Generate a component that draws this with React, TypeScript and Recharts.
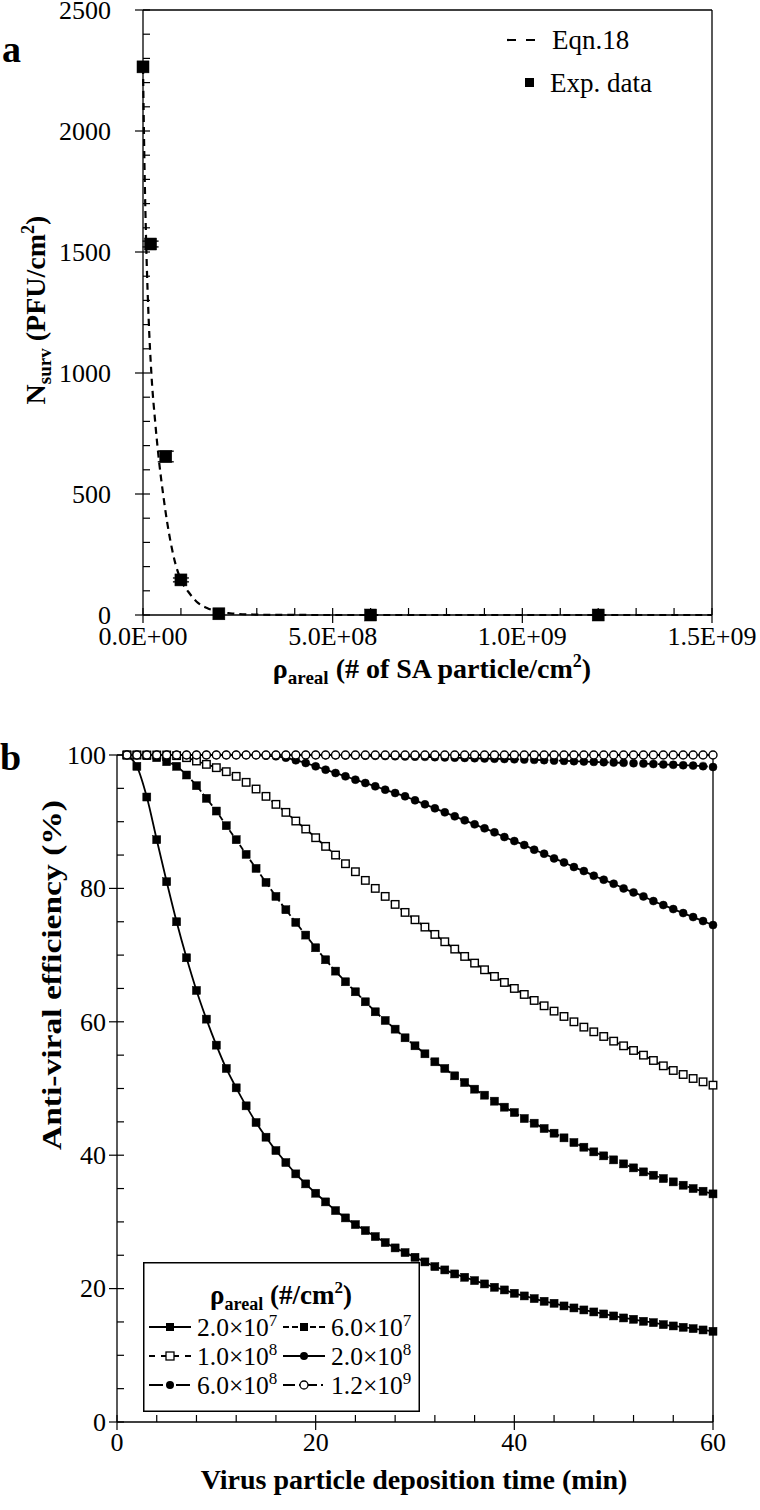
import React from "react";
import {
  ComposedChart,
  LineChart,
  Line,
  Scatter,
  XAxis,
  YAxis,
  ErrorBar,
  ReferenceLine,
  Legend,
} from "recharts";

const SERIF = '"Liberation Serif", "Times New Roman", Times, serif';

// ---------- panel a : surviving virus vs. areal density of SA particles
const expDensity = [0, 2e7, 6e7, 1e8, 2e8, 6e8, 1.2e9];
const expSurv = [2265, 1533, 655, 145, 5, 0, 0];
const expErr = [0, 12, 22, 8, 0, 0, 0];

// Eqn.18 curve
const eqnDensity = [
  0, 4e6, 9e6, 1.5e7, 2.2e7, 3.2e7, 4.2e7, 5.3e7, 6.3e7, 7.3e7, 8.5e7, 1e8,
  1.2e8, 1.45e8, 1.7e8, 1.95e8, 2.3e8, 2.9e8, 3.5e8, 5e8, 1e9, 1.5e9,
];
const eqnSurv = [
  2265, 1850, 1500, 1220, 1000, 800, 640, 500, 390, 300, 215, 145, 95, 50, 28,
  15, 7, 2, 0.5, 0, 0, 0,
];

const aYTicks = [
  0, 100, 200, 300, 400, 500, 600, 700, 800, 900, 1000, 1100, 1200, 1300, 1400,
  1500, 1600, 1700, 1800, 1900, 2000, 2100, 2200, 2300, 2400, 2500,
];
const aYMajor = [0, 500, 1000, 1500, 2000, 2500];
const aXTicks = [
  0, 1e8, 2e8, 3e8, 4e8, 5e8, 6e8, 7e8, 8e8, 9e8, 1e9, 1.1e9, 1.2e9, 1.3e9,
  1.4e9, 1.5e9,
];
const aXMajor = [0, 5e8, 1e9, 1.5e9];

// ---------- panel b : anti-viral efficiency vs. deposition time
const bTimes = [
  1, 2, 3, 4, 5, 6, 7, 8, 9, 10, 11, 12, 13, 14, 15, 16, 17, 18, 19, 20, 21, 22,
  23, 24, 25, 26, 27, 28, 29, 30, 31, 32, 33, 34, 35, 36, 37, 38, 39, 40, 41,
  42, 43, 44, 45, 46, 47, 48, 49, 50, 51, 52, 53, 54, 55, 56, 57, 58, 59, 60,
];
const rho2e7 = [
  100, 98.3, 93.7, 87.3, 81.0, 75.0, 69.6, 64.7, 60.4, 56.5, 53.0, 50.1, 47.4,
  44.9, 42.7, 40.7, 38.9, 37.2, 35.7, 34.3, 33.0, 31.7, 30.6, 29.6, 28.7, 27.8,
  26.9, 26.1, 25.4, 24.7, 24.0, 23.3, 22.8, 22.2, 21.7, 21.2, 20.7, 20.2, 19.8,
  19.3, 18.9, 18.5, 18.1, 17.8, 17.4, 17.1, 16.8, 16.5, 16.2, 15.9, 15.6, 15.4,
  15.1, 14.9, 14.6, 14.4, 14.2, 14.0, 13.8, 13.6,
];
const rho6e7 = [
  100, 100, 99.9, 99.6, 99.0, 98.3, 97.0, 95.4, 93.5, 91.6, 89.4, 87.3, 85.1,
  83.0, 80.9, 78.8, 76.8, 74.9, 73.0, 71.1, 69.3, 67.6, 66.0, 64.5, 63.0, 61.5,
  60.2, 58.9, 57.6, 56.4, 55.2, 54.0, 53.0, 51.9, 50.9, 49.9, 49.0, 48.1, 47.2,
  46.4, 45.5, 44.8, 44.0, 43.3, 42.6, 41.9, 41.2, 40.5, 39.9, 39.3, 38.7, 38.1,
  37.5, 37.0, 36.5, 36.0, 35.5, 35.0, 34.6, 34.2,
];
const rho1e8 = [
  100, 100, 100, 100, 100, 99.9, 99.6, 99.1, 98.6, 98.1, 97.5, 96.8, 95.9, 94.9,
  93.8, 92.6, 91.4, 90.1, 88.9, 87.6, 86.3, 85.0, 83.7, 82.5, 81.2, 80.0, 78.8,
  77.6, 76.4, 75.3, 74.2, 73.1, 72.0, 70.9, 69.8, 68.8, 67.8, 66.8, 65.9, 65.0,
  64.1, 63.2, 62.4, 61.6, 60.8, 60.0, 59.2, 58.5, 57.8, 57.1, 56.4, 55.7, 55.0,
  54.2, 53.4, 52.7, 52.1, 51.5, 51.0, 50.5,
];
const rho2e8 = [
  100, 100, 100, 100, 100, 100, 100, 100, 100, 100, 100, 100, 100, 100, 99.9,
  99.8, 99.6, 99.2, 98.8, 98.3, 97.8, 97.3, 96.8, 96.3, 95.8, 95.3, 94.8, 94.3,
  93.8, 93.2, 92.6, 92.0, 91.4, 90.8, 90.2, 89.6, 89.0, 88.4, 87.7, 87.1, 86.5,
  85.8, 85.2, 84.5, 83.9, 83.2, 82.6, 81.9, 81.3, 80.7, 80.0, 79.4, 78.8, 78.1,
  77.5, 76.9, 76.3, 75.7, 75.1, 74.5,
];
const rho6e8 = [
  100, 100, 100, 100, 100, 100, 100, 100, 100, 100, 100, 100, 100, 100, 100,
  100, 100, 100, 100, 100, 99.98, 99.96, 99.94, 99.92, 99.9, 99.87, 99.84,
  99.81, 99.78, 99.75, 99.72, 99.68, 99.64, 99.6, 99.56, 99.52, 99.48, 99.44,
  99.4, 99.36, 99.32, 99.27, 99.22, 99.17, 99.12, 99.07, 99.02, 98.97, 98.92,
  98.87, 98.82, 98.77, 98.71, 98.65, 98.59, 98.53, 98.47, 98.41, 98.33, 98.2,
];
const rho12e8 = [
  100, 100, 100, 100, 100, 100, 100, 100, 100, 100, 100, 100, 100, 100, 100,
  100, 100, 100, 100, 100, 100, 100, 100, 100, 100, 100, 100, 100, 100, 100,
  100, 100, 100, 100, 100, 100, 100, 100, 100, 100, 100, 100, 100, 100, 100,
  100, 100, 100, 100, 100, 100, 100, 100, 100, 100, 100, 100, 100, 100, 100,
];

const bYTicks = [
  0, 5, 10, 15, 20, 25, 30, 35, 40, 45, 50, 55, 60, 65, 70, 75, 80, 85, 90, 95,
  100,
];
const bYMajor = [0, 20, 40, 60, 80, 100];
const bXTicks = [0, 4, 8, 12, 16, 20, 24, 28, 32, 36, 40, 44, 48, 52, 56, 60];
const bXMajor = [0, 20, 40, 60];

const expRows = expDensity.map((x, i) => ({ x, y: expSurv[i], err: expErr[i] }));
const eqnRows = eqnDensity.map((x, i) => ({ x, y: eqnSurv[i] }));
const bRows = bTimes.map((t, i) => ({
  t,
  s1: rho2e7[i],
  s2: rho6e7[i],
  s3: rho1e8[i],
  s4: rho2e8[i],
  s5: rho6e8[i],
  s6: rho12e8[i],
}));

const sci = (v: number) => {
  const [m, e] = v.toExponential(1).split("e");
  const n = Number(e);
  return `${m}E${n < 0 ? "-" : "+"}${String(Math.abs(n)).padStart(2, "0")}`;
};

// ticks: majors cross the axis and carry a label, minors point inwards
const leftTick = (majors: number[], fmt: (v: number) => string, gap: number) => (p: any) => {
  const { x, y, payload } = p;
  const major = majors.includes(payload.value);
  return (
    <g>
      <line x1={major ? x - 8 : x} x2={x + 7} y1={y} y2={y} stroke="#000" strokeWidth={1.2} />
      {major && (
        <text x={x - gap} y={y} dy="0.34em" textAnchor="end" fontFamily={SERIF} fontSize={26} fill="#000">
          {fmt(payload.value)}
        </text>
      )}
    </g>
  );
};
const bottomTick = (majors: number[], fmt: (v: number) => string, drop: number) => (p: any) => {
  const { x, y, payload } = p;
  const major = majors.includes(payload.value);
  return (
    <g>
      <line x1={x} x2={x} y1={major ? y + 8 : y} y2={y - 7} stroke="#000" strokeWidth={1.2} />
      {major && (
        <text x={x} y={y + drop} textAnchor="middle" fontFamily={SERIF} fontSize={26} fill="#000">
          {fmt(payload.value)}
        </text>
      )}
    </g>
  );
};

const square = (size: number, filled: boolean) => (p: any) => {
  const { cx, cy, index } = p;
  if (cx == null || cy == null) return <g key={index} />;
  return (
    <rect key={index} x={cx - size / 2} y={cy - size / 2} width={size} height={size}
      fill={filled ? "#000" : "#fff"} stroke="#000" strokeWidth={filled ? 0.5 : 1.4} />
  );
};
const circle = (r: number, filled: boolean) => (p: any) => {
  const { cx, cy, index } = p;
  if (cx == null || cy == null) return <g key={index} />;
  return <circle key={index} cx={cx} cy={cy} r={r} fill={filled ? "#000" : "#fff"} stroke="#000" strokeWidth={filled ? 0.5 : 1.4} />;
};

const bSeries = [
  { key: "s1", label: "2.0×10", exp: "7", dash: undefined, dot: square(8, true), mark: "sq" },
  { key: "s2", label: "6.0×10", exp: "7", dash: "6 3", dot: square(8, true), mark: "sq" },
  { key: "s3", label: "1.0×10", exp: "8", dash: "6 6", dot: square(7.5, false), mark: "osq" },
  { key: "s4", label: "2.0×10", exp: "8", dash: undefined, dot: circle(4, true), mark: "ci" },
  { key: "s5", label: "6.0×10", exp: "8", dash: "14 4 5 4", dot: circle(4, true), mark: "ci" },
  { key: "s6", label: "1.2×10", exp: "9", dash: "12 4 2 4", dot: circle(4, false), mark: "oci" },
];

const LegendA = () => (
  <svg width={210} height={90} style={{ overflow: "visible" }}>
    <line x1={7} x2={35} y1={20} y2={20} stroke="#000" strokeWidth={2.2} strokeDasharray="9 10" />
    <text x={52} y={29} fontFamily={SERIF} fontSize={27}>Eqn.18</text>
    <rect x={25} y={58} width={9} height={9} fill="#000" />
    <text x={50} y={72} fontFamily={SERIF} fontSize={27}>Exp. data</text>
  </svg>
);

const swatch = (s: (typeof bSeries)[number], x: number, y: number) => (
  <g>
    <line x1={x} x2={x + 42} y1={y} y2={y} stroke="#000" strokeWidth={2} strokeDasharray={s.dash} />
    {s.mark === "sq" && <rect x={x + 17} y={y - 4} width={8} height={8} fill="#000" />}
    {s.mark === "osq" && <rect x={x + 17} y={y - 4} width={8} height={8} fill="#fff" stroke="#000" strokeWidth={1.3} />}
    {s.mark === "ci" && <circle cx={x + 21} cy={y} r={4} fill="#000" />}
    {s.mark === "oci" && <circle cx={x + 21} cy={y} r={4} fill="#fff" stroke="#000" strokeWidth={1.3} />}
  </g>
);

const LegendB = () => (
  <svg width={277} height={150} style={{ overflow: "visible" }}>
    <rect x={0.75} y={0.75} width={275.5} height={148.5} fill="#fff" stroke="#000" strokeWidth={1.5} />
    <text x={138} y={42} textAnchor="middle" fontFamily={SERIF} fontSize={27} fontWeight="bold">
      ρ<tspan fontSize={18} dy={6}>areal</tspan>
      <tspan dy={-6}> (#/cm</tspan>
      <tspan fontSize={17} dy={-11}>2</tspan>
      <tspan dy={11}>)</tspan>
    </text>
    {bSeries.map((s, i) => {
      const col = i % 2;
      const row = Math.floor(i / 2);
      const x = col === 0 ? 6 : 140;
      const y = 65 + row * 29;
      return (
        <g key={s.key}>
          {swatch(s, x, y)}
          <text x={x + 48} y={y + 9} fontFamily={SERIF} fontSize={25.5}>
            {s.label}
            <tspan fontSize={17} dy={-10}>{s.exp}</tspan>
          </text>
        </g>
      );
    })}
  </svg>
);

export default function App() {
  return (
    <div style={{ position: "absolute", left: 0, top: 0, width: 760, height: 1510, background: "#fff" }}>
      <svg width={760} height={1510} style={{ position: "absolute", left: 0, top: 0, pointerEvents: "none" }}>
        <text x={2} y={62} fontFamily={SERIF} fontSize={38} fontWeight="bold">a</text>
        <text x={0} y={770} fontFamily={SERIF} fontSize={38} fontWeight="bold">b</text>
      </svg>

      <div style={{ position: "absolute", left: 0, top: 0 }}>
        <ComposedChart width={760} height={700} margin={{ top: 10, right: 48, bottom: 25, left: 83 }}>
          <XAxis
            type="number" dataKey="x" domain={[0, 1.5e9]} ticks={aXTicks} interval={0}
            height={60} tickSize={0} tickMargin={0} tickLine={false}
            axisLine={{ stroke: "#000", strokeWidth: 1.3 }} tick={bottomTick(aXMajor, sci, 30)}
            label={() => (
              <text x={432} y={678} textAnchor="middle" fontFamily={SERIF} fontSize={28} fontWeight="bold">
                ρ<tspan fontSize={19} dy={6}>areal</tspan>
                <tspan dy={-6}> (# of SA particle/cm</tspan>
                <tspan fontSize={18} dy={-11}>2</tspan>
                <tspan dy={11}>)</tspan>
              </text>
            )}
          />
          <YAxis
            type="number" dataKey="y" domain={[0, 2500]} ticks={aYTicks} interval={0}
            width={60} tickSize={0} tickMargin={0} tickLine={false}
            axisLine={{ stroke: "#000", strokeWidth: 1.3 }} tick={leftTick(aYMajor, String, 32)}
            label={() => (
              <text x={45} y={310} transform="rotate(-90 45 310)" textAnchor="middle" fontFamily={SERIF} fontSize={28} fontWeight="bold">
                N<tspan fontSize={19} dy={6}>surv</tspan>
                <tspan dy={-6}> (PFU/cm</tspan>
                <tspan fontSize={18} dy={-11}>2</tspan>
                <tspan dy={11}>)</tspan>
              </text>
            )}
          />
          <ReferenceLine y={2500} stroke="#000" strokeWidth={1.3} />
          <ReferenceLine x={1.5e9} stroke="#000" strokeWidth={1.3} />
          <Line
            data={eqnRows} dataKey="y" type="monotone" stroke="#000" strokeWidth={2.2}
            strokeDasharray="7 5" dot={false} activeDot={false} isAnimationActive={false}
          />
          <Scatter data={expRows} dataKey="y" shape={square(12, true)} isAnimationActive={false}>
            <ErrorBar dataKey="err" direction="y" width={8} stroke="#000" strokeWidth={1.3} />
          </Scatter>
          <Legend
            layout="vertical" align="center" verticalAlign="middle"
            wrapperStyle={{ left: 500, top: 20, width: 210, height: 90 }}
            content={() => <LegendA />}
          />
        </ComposedChart>
      </div>

      <div style={{ position: "absolute", left: 0, top: 700 }}>
        <LineChart width={760} height={810} data={bRows} margin={{ top: 55, right: 47, bottom: 28, left: 57 }}>
          <XAxis
            type="number" dataKey="t" domain={[0, 60]} ticks={bXTicks} interval={0}
            height={60} tickSize={0} tickMargin={0} tickLine={false}
            axisLine={{ stroke: "#000", strokeWidth: 1.3 }} tick={bottomTick(bXMajor, String, 29)}
            label={() => (
              <text x={414} y={789} textAnchor="middle" fontFamily={SERIF} fontSize={28} fontWeight="bold">
                Virus particle deposition time (min)
              </text>
            )}
          />
          <YAxis
            type="number" domain={[0, 100]} ticks={bYTicks} interval={0}
            width={60} tickSize={0} tickMargin={0} tickLine={false}
            axisLine={{ stroke: "#000", strokeWidth: 1.3 }} tick={leftTick(bYMajor, String, 11)}
            label={() => (
              <text x={61} y={275} transform="rotate(-90 61 275)" textAnchor="middle" fontFamily={SERIF}
                fontSize={28} fontWeight="bold" textLength={350} lengthAdjust="spacingAndGlyphs">
                Anti-viral efficiency (%)
              </text>
            )}
          />
          <ReferenceLine y={100} stroke="#000" strokeWidth={1.3} />
          <ReferenceLine x={60} stroke="#000" strokeWidth={1.3} />
          {bSeries.map((s) => (
            <Line
              key={s.key} dataKey={s.key} type="monotone" stroke="#000" strokeWidth={1.8}
              strokeDasharray={s.dash} dot={s.dot} activeDot={false} isAnimationActive={false}
            />
          ))}
          <Legend
            layout="vertical" align="center" verticalAlign="middle"
            wrapperStyle={{ left: 143, top: 562, width: 277, height: 150 }}
            content={() => <LegendB />}
          />
        </LineChart>
      </div>
    </div>
  );
}
